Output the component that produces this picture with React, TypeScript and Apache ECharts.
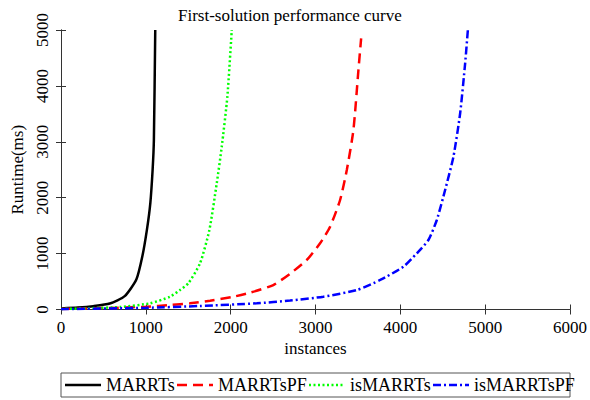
import React, { useEffect, useRef } from "react";
import * as echarts from "echarts";

const xTicks = [0, 1000, 2000, 3000, 4000, 5000, 6000];
const yTicks = [0, 1000, 2000, 3000, 4000, 5000];

const seriesNames = ["MARRTs", "MARRTsPF", "isMARRTs", "isMARRTsPF"];
const seriesColors = ["#000000", "#ff0000", "#00ff00", "#0000ff"];

const marrtsX = [0, 200, 380, 575, 751, 888, 959, 1013, 1053, 1080, 1095, 1111];
const marrtsY = [20, 35, 60, 107, 238, 536, 952, 1429, 1905, 2500, 3036, 5000];

const marrtsPfX = [0, 500, 1000, 1285, 1521, 1757, 2032, 2229, 2503, 2700, 2897, 3054, 3172, 3290, 3369, 3447, 3506, 3538];
const marrtsPfY = [10, 25, 50, 80, 111, 158, 229, 300, 438, 640, 886, 1184, 1481, 1959, 2496, 3211, 4284, 4850];

const isMarrtsX = [0, 300, 700, 1050, 1285, 1403, 1501, 1639, 1749, 1836, 1895, 1961, 2013];
const isMarrtsY = [10, 20, 45, 111, 229, 349, 469, 826, 1422, 2258, 2912, 3807, 5000];

const isMarrtsPfX = [0, 1000, 1639, 2308, 2700, 3093, 3487, 3762, 4037, 4194, 4331, 4430, 4528, 4626, 4705, 4764, 4796];
const isMarrtsPfY = [5, 30, 63, 111, 160, 229, 349, 528, 766, 1005, 1243, 1601, 2138, 2733, 3510, 4404, 5000];

const FONT = "Liberation Serif";

function zip(xs: number[], ys: number[]) {
  return xs.map((x, i) => [x, ys[i]]);
}

export default function App() {
  const ref = useRef<HTMLDivElement>(null);
  useEffect(() => {
    if (!ref.current) return;
    const chart = echarts.init(ref.current, undefined, { renderer: "svg" });
    const axisLine = { show: true, lineStyle: { color: "#333", width: 1 } };
    const axisTick = { show: true, inside: true, length: 5, lineStyle: { color: "#333", width: 1 } };
    const dashes: any[] = [null, [10, 6], [2, 2.5], [8, 3, 2, 3]];
    const datas = [
      zip(marrtsX, marrtsY),
      zip(marrtsPfX, marrtsPfY),
      zip(isMarrtsX, isMarrtsY),
      zip(isMarrtsPfX, isMarrtsPfY),
    ];
    // legend layout (manual, to mimic the boxed single-row legend)
    const legendIconX = [65, 177, 309, 433];
    const legendY = 385;
    const legendGraphics: any[] = [
      {
        type: "rect",
        shape: { x: 61, y: 373, width: 509, height: 24 },
        style: { fill: "none", stroke: "#555", lineWidth: 1 },
        z: 0,
      },
    ];
    seriesNames.forEach((name, i) => {
      legendGraphics.push({
        type: "line",
        shape: { x1: legendIconX[i], y1: legendY, x2: legendIconX[i] + 36, y2: legendY },
        style: { stroke: seriesColors[i], lineWidth: 2.5, lineDash: dashes[i] || undefined },
        z: 5,
      });
      legendGraphics.push({
        type: "text",
        x: legendIconX[i] + 41,
        y: legendY,
        style: {
          text: name,
          fill: "#000",
          font: `18px ${FONT}`,
          fontFamily: FONT,
          fontSize: 18,
          verticalAlign: "middle",
          align: "left",
        },
        z: 5,
      });
    });
    chart.setOption({
      animation: false,
      backgroundColor: "#ffffff",
      textStyle: { fontFamily: FONT },
      title: {
        text: "First-solution performance curve",
        left: 178,
        top: 7,
        padding: 0,
        textStyle: { fontFamily: FONT, fontSize: 17, fontWeight: "normal", color: "#000" },
      },
      grid: { left: 61, right: 20, top: 30, bottom: 90.5 },
      graphic: legendGraphics,
      xAxis: [
        {
          type: "value",
          min: xTicks[0],
          max: xTicks[xTicks.length - 1],
          interval: 1000,
          name: "instances",
          nameLocation: "middle",
          nameGap: 30,
          nameTextStyle: { fontFamily: FONT, fontSize: 17, color: "#000" },
          axisLine,
          axisTick,
          splitLine: { show: false },
          axisLabel: {
            fontFamily: FONT,
            fontSize: 17,
            color: "#000",
            margin: 9,
            formatter: (v: number) => String(v),
          },
        },
        {
          type: "value",
          position: "top",
          min: xTicks[0],
          max: xTicks[xTicks.length - 1],
          interval: 1000,
          axisLine,
          axisTick,
          splitLine: { show: false },
          axisLabel: { show: false },
        },
      ],
      yAxis: [
        {
          type: "value",
          min: yTicks[0],
          max: yTicks[yTicks.length - 1],
          interval: 1000,
          name: "Runtime(ms)",
          nameLocation: "middle",
          nameGap: 35,
          nameRotate: 90,
          nameTextStyle: { fontFamily: FONT, fontSize: 17, color: "#000" },
          axisLine,
          axisTick,
          splitLine: { show: false },
          axisLabel: {
            fontFamily: FONT,
            fontSize: 17,
            color: "#000",
            rotate: 90,
            margin: 10,
            formatter: (v: number) => String(v),
          },
        },
        {
          type: "value",
          position: "right",
          min: yTicks[0],
          max: yTicks[yTicks.length - 1],
          interval: 1000,
          axisLine,
          axisTick,
          splitLine: { show: false },
          axisLabel: { show: false },
        },
      ],
      series: seriesNames.map((name, i) => ({
        name,
        type: "line",
        xAxisIndex: 0,
        yAxisIndex: 0,
        data: datas[i],
        showSymbol: false,
        symbol: "none",
        smooth: 0.2,
        clip: true,
        lineStyle: { color: seriesColors[i], width: 2.5, type: dashes[i] || "solid" },
        itemStyle: { color: seriesColors[i] },
      })),
    });
    return () => chart.dispose();
  }, []);
  return (
    <div
      ref={ref}
      style={{ position: "fixed", left: 0, top: 0, width: 590, height: 400, background: "#fff" }}
    />
  );
}
